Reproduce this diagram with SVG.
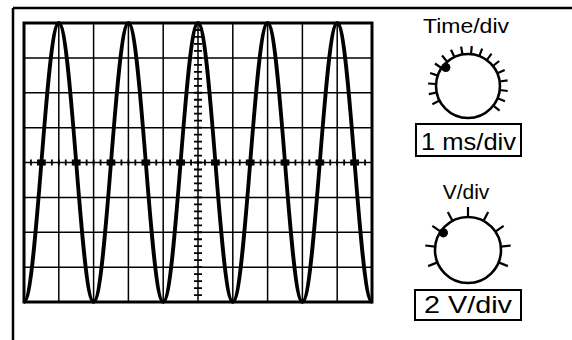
<svg xmlns="http://www.w3.org/2000/svg" width="572" height="340" viewBox="0 0 572 340">
<style>
.frame{stroke:#000;stroke-width:2.5;fill:none}
.grid{stroke:#000;stroke-width:1.5;fill:none}
.screen{stroke:#000;stroke-width:3;fill:none}
.wave{stroke:#000;stroke-width:3.8;fill:none;stroke-linejoin:round}
.knob{stroke:#000;stroke-width:2.6;fill:#fff}
.tick{stroke:#000;stroke-width:2.2;stroke-linecap:butt}
.lbl{font-family:"Liberation Sans",Arial,sans-serif;fill:#000;text-anchor:middle}
.box{stroke:#000;stroke-width:2;fill:#fff}
</style>
<rect width="572" height="340" fill="#fff"/>
<g id="frame">
<line class="frame" x1="13" y1="8" x2="572" y2="8"/>
<line class="frame" x1="13" y1="8" x2="13" y2="340"/>
</g>
<g id="screen">
<g class="grid">
<path d="M58.8,23V302M93.6,23V302M128.4,23V302M163.2,23V302M198,23V302M232.8,23V302M267.6,23V302M302.4,23V302M337.2,23V302"/>
<path d="M24,57.875H372M24,92.75H372M24,127.625H372M24,162.5H372M24,197.375H372M24,232.25H372M24,267.125H372"/>
</g>
<line x1="24" y1="162.5" x2="372" y2="162.5" stroke="#000" stroke-width="6" stroke-dasharray="1.8 5.16" stroke-dashoffset="0.9"/>
<line x1="198" y1="23" x2="198" y2="302" stroke="#000" stroke-width="8" stroke-dasharray="1.8 5.175" stroke-dashoffset="0.9"/>
<rect class="screen" x="24" y="23" width="348" height="279"/>
<path class="wave" d="M24,302 C30.3,302 35.73,233.97 41.4,162.5 S52.5,23 58.8,23 S70.53,91.03 76.2,162.5 S87.3,302 93.6,302 S105.33,233.97 111,162.5 S122.1,23 128.4,23 S140.13,91.03 145.8,162.5 S156.9,302 163.2,302 S174.93,233.97 180.6,162.5 S191.7,23 198,23 S209.73,91.03 215.4,162.5 S226.5,302 232.8,302 S244.53,233.97 250.2,162.5 S261.3,23 267.6,23 S279.33,91.03 285,162.5 S296.1,302 302.4,302 S314.13,233.97 319.8,162.5 S330.9,23 337.2,23 S348.93,91.03 354.6,162.5 S365.7,302 372,302"/>
<g fill="#000">
<rect x="38.4" y="159.5" width="6" height="6"/>
<rect x="73.2" y="159.5" width="6" height="6"/>
<rect x="108" y="159.5" width="6" height="6"/>
<rect x="142.8" y="159.5" width="6" height="6"/>
<rect x="177.6" y="159.5" width="6" height="6"/>
<rect x="212.4" y="159.5" width="6" height="6"/>
<rect x="247.2" y="159.5" width="6" height="6"/>
<rect x="282" y="159.5" width="6" height="6"/>
<rect x="316.8" y="159.5" width="6" height="6"/>
<rect x="351.6" y="159.5" width="6" height="6"/>
</g>
</g>
<g id="time-knob">
<text class="lbl" x="466" y="33" font-size="21" textLength="86" lengthAdjust="spacingAndGlyphs">Time/div</text>
<g class="tick">
<line x1="468" y1="54" x2="468" y2="46" transform="rotate(-117 468 86)"/>
<line x1="468" y1="54" x2="468" y2="46" transform="rotate(-101.7 468 86)"/>
<line x1="468" y1="54" x2="468" y2="46" transform="rotate(-86.4 468 86)"/>
<line x1="468" y1="54" x2="468" y2="46" transform="rotate(-71.1 468 86)"/>
<line x1="468" y1="54" x2="468" y2="46" transform="rotate(-55.8 468 86)"/>
<line x1="468" y1="54" x2="468" y2="46" transform="rotate(-40.5 468 86)"/>
<line x1="468" y1="54" x2="468" y2="46" transform="rotate(-25.2 468 86)"/>
<line x1="468" y1="54" x2="468" y2="46" transform="rotate(-9.9 468 86)"/>
<line x1="468" y1="54" x2="468" y2="46" transform="rotate(5.4 468 86)"/>
<line x1="468" y1="54" x2="468" y2="46" transform="rotate(20.7 468 86)"/>
<line x1="468" y1="54" x2="468" y2="46" transform="rotate(36 468 86)"/>
<line x1="468" y1="54" x2="468" y2="46" transform="rotate(51.3 468 86)"/>
<line x1="468" y1="54" x2="468" y2="46" transform="rotate(66.6 468 86)"/>
<line x1="468" y1="54" x2="468" y2="46" transform="rotate(81.9 468 86)"/>
<line x1="468" y1="54" x2="468" y2="46" transform="rotate(97.2 468 86)"/>
<line x1="468" y1="54" x2="468" y2="46" transform="rotate(112.5 468 86)"/>
<line x1="468" y1="54" x2="468" y2="46" transform="rotate(127.8 468 86)"/>
</g>
<circle class="knob" cx="468" cy="86" r="32"/>
<circle cx="445.8" cy="67.4" r="4.6" fill="#000"/>
<rect class="box" x="416" y="124" width="105" height="32"/>
<text class="lbl" x="468.5" y="150" font-size="24" textLength="95" lengthAdjust="spacingAndGlyphs">1 ms/div</text>
</g>
<g id="volt-knob">
<text class="lbl" x="466" y="199" font-size="21">V/div</text>
<g class="tick">
<line x1="468" y1="217" x2="468" y2="207" transform="rotate(-112 468 250)"/>
<line x1="468" y1="217" x2="468" y2="207" transform="rotate(-84 468 250)"/>
<line x1="468" y1="217" x2="468" y2="207" transform="rotate(-56 468 250)"/>
<line x1="468" y1="217" x2="468" y2="207" transform="rotate(-28 468 250)"/>
<line x1="468" y1="217" x2="468" y2="207"/>
<line x1="468" y1="217" x2="468" y2="207" transform="rotate(28 468 250)"/>
<line x1="468" y1="217" x2="468" y2="207" transform="rotate(56 468 250)"/>
<line x1="468" y1="217" x2="468" y2="207" transform="rotate(84 468 250)"/>
<line x1="468" y1="217" x2="468" y2="207" transform="rotate(112 468 250)"/>
</g>
<circle class="knob" cx="468" cy="250" r="33"/>
<circle cx="443.4" cy="232.8" r="4.6" fill="#000"/>
<rect class="box" x="415" y="290" width="106" height="30"/>
<text class="lbl" x="468" y="313" font-size="24" textLength="88" lengthAdjust="spacingAndGlyphs">2 V/div</text>
</g>
</svg>
